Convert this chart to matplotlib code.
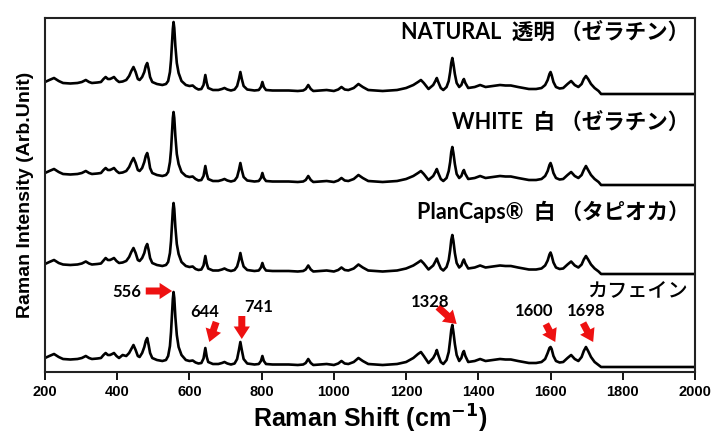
import matplotlib
matplotlib.use("Agg")
import matplotlib.pyplot as plt
from matplotlib.patches import FancyArrowPatch

# ---------------- data ----------------
shift = [200, 212, 225, 238, 250, 270, 290, 302, 313, 322,
         330, 345, 355, 362, 368, 374, 380, 386, 391, 398,
         405, 415, 425, 433, 439, 445, 451, 457, 462, 469,
         475, 479, 483, 487, 491, 497, 510, 525, 535, 541,
         546, 549, 552, 554, 556, 558, 561, 565, 570, 578,
         590, 600, 609, 617, 625, 633, 639, 644, 648, 652,
         665, 680, 690, 697, 705, 715, 725, 732, 737, 741,
         745, 750, 760, 780, 792, 798, 802, 806, 812, 830,
         850, 875, 900, 915, 922, 929, 936, 943, 960, 980,
         1000, 1012, 1021, 1030, 1040, 1055, 1068, 1080, 1095, 1115,
         1135, 1155, 1175, 1200, 1220, 1233, 1241, 1249, 1262, 1275,
         1281, 1285, 1289, 1296, 1303, 1312, 1318, 1322, 1325, 1328,
         1331, 1335, 1340, 1347, 1353, 1357, 1360, 1364, 1372, 1390,
         1405, 1420, 1440, 1460, 1475, 1490, 1510, 1525, 1540, 1560,
         1575, 1585, 1592, 1597, 1600, 1603, 1608, 1615, 1625, 1635,
         1647, 1657, 1667, 1677, 1686, 1692, 1698, 1704, 1712, 1722,
         1733, 1740, 2000]

natural = [12, 14, 16, 13, 11, 10.5, 11, 12, 14, 12,
           11, 11.5, 12, 15, 17, 15, 15, 16, 17, 14,
           12, 12.5, 14, 18, 23, 27, 22, 15, 14, 17,
           22, 28, 31, 25, 17, 12, 10, 9, 10, 13,
           22, 34, 52, 65, 72, 66, 48, 31, 21, 13,
           9, 8, 8.5, 6, 4.5, 5, 9, 19, 11, 6,
           4, 4, 5, 6, 4.5, 3.5, 4.5, 8, 15, 22,
           15, 8, 4.5, 3.5, 4, 7, 12, 7, 4, 3.5,
           3.5, 3.5, 3, 3.5, 5, 9, 5, 3, 3.5, 4,
           3, 4.5, 7, 4.5, 4, 6, 10, 7, 4, 3.5,
           3, 3.5, 4, 6, 9, 12, 14, 11, 5, 9,
           13, 16, 12, 6, 4, 7, 13, 22, 31, 36,
           30, 20, 11, 7, 9, 13, 15, 11, 6, 7,
           9, 7, 8, 9, 8.5, 8.5, 7, 6, 5, 5,
           6, 9, 14, 20, 22, 19, 12, 7, 5.5, 6,
           10, 13, 9, 7, 10, 15, 18, 15, 10, 6,
           3, 0, 0]

white = [12, 14, 16, 13, 11, 10.5, 11, 12, 14, 12,
         11, 11.5, 12, 15, 17, 15, 15, 16, 17, 14,
         12, 12.5, 14, 18, 23, 27, 22, 15, 14, 17,
         23, 29, 32, 26, 17, 12, 10, 9, 10, 13,
         23, 35, 54, 67, 73, 67, 49, 31, 21, 13,
         9, 8, 8.5, 6, 4.5, 5, 9, 19, 11, 6,
         4, 4, 5, 6, 4.5, 3.5, 4.5, 8, 15, 22,
         15, 8, 4.5, 3.5, 4, 7, 12, 7, 4, 3.5,
         3.5, 3.5, 3, 3.5, 5, 9, 5, 3, 3.5, 4,
         3, 4.5, 7, 4.5, 4, 6, 10, 7, 4, 3.5,
         3, 3.5, 4, 6, 9, 12, 14, 11, 5, 9,
         13, 16, 12, 6, 4, 7, 14, 23, 33, 38,
         32, 21, 11, 7, 9, 13, 15, 11, 6, 7,
         9, 7, 8, 9, 8.5, 8.5, 7, 6, 5, 5,
         6, 9, 14, 20, 22, 19, 12, 7, 5.5, 6,
         10, 13, 9, 7, 10, 15, 19, 15, 10, 6,
         3, 0, 0]

plancaps = [10, 12, 14, 11, 9.5, 9, 9.5, 10.5, 12.5, 10.5,
            9.5, 10, 10.5, 13.5, 16, 14, 14, 15, 16, 13,
            11, 11.5, 13, 17, 22, 26, 21, 14, 13, 16,
            21, 27, 30, 24, 16, 11, 9, 8, 9, 12,
            21, 33, 51, 64, 71, 65, 47, 30, 20, 12,
            8, 7, 7.5, 5, 4, 4.5, 8.5, 18, 10, 5.5,
            3.5, 3.5, 4.5, 5.5, 4, 3, 4, 7.5, 14, 21,
            14, 7.5, 4, 3, 3.5, 6.5, 11, 6.5, 3.5, 3,
            3, 3, 2.5, 3, 4.5, 8.5, 4.5, 2.5, 3, 3.5,
            2.5, 4, 6.5, 4, 3.5, 5.5, 9.5, 6.5, 3.5, 3,
            2.5, 3, 3.5, 5.5, 8.5, 11.5, 13.5, 10.5, 4.5, 8.5,
            12.5, 15.5, 11.5, 5.5, 3.5, 7, 14, 24, 34, 39,
            33, 21, 11, 6.5, 8.5, 12.5, 14.5, 10.5, 5.5, 6.5,
            8.5, 6.5, 7.5, 8.5, 8, 8, 6.5, 5.5, 4.5, 4.5,
            5.5, 8.5, 13.5, 19.5, 21.5, 18.5, 11.5, 6.5, 5, 5.5,
            9.5, 12.5, 8.5, 6.5, 9.5, 14.5, 18, 14.5, 9.5, 5.5,
            2.5, 0, 0]

caffeine = [9, 11, 13, 10, 8, 7.5, 8, 9, 11, 9,
            8, 8.5, 9, 12, 14, 12, 12, 13, 14, 11,
            9, 12, 11, 14, 18, 22, 17, 11, 10, 14,
            20, 26, 29, 22, 14, 9, 7, 6, 7, 11,
            21, 35, 55, 68, 75, 69, 50, 32, 20, 12,
            7, 6, 6.5, 4.5, 3.5, 4, 8.5, 19, 10, 5,
            3, 3, 4, 5, 3.5, 2.5, 3.5, 8, 17, 25,
            17, 8, 3.5, 2.5, 3, 6, 11, 6, 3, 2.5,
            2.5, 2.5, 2, 2.5, 4, 8, 4, 2, 2.5, 3,
            2, 3.5, 6, 3.5, 3, 5, 9, 6, 3, 2.5,
            2, 2.5, 3, 5, 9, 13, 15, 11, 4, 9,
            13, 17, 12, 5, 3, 7, 15, 27, 37, 42,
            35, 23, 12, 6, 9, 14, 16, 11, 5, 6,
            8, 6, 7, 8, 7.5, 7.5, 6, 5, 4, 4,
            5, 8, 14, 19, 20, 18, 11, 6, 4.5, 5,
            9, 12, 8, 6, 10, 16, 20, 16, 10, 5,
            2, 0, 0]

series = [natural, white, plancaps, caffeine]
offsets = [278, 187, 98, 5]

labels = ["NATURAL  透明 （ゼラチン）", "WHITE  白 （ゼラチン）",
          "PlanCaps®  白 （タピオカ）", "カフェイン"]
label_y = [340, 250, 160, 81]

peak_labels = ["556", "644", "741", "1328", "1600", "1698"]
xticks = [200, 400, 600, 800, 1000, 1200, 1400, 1600, 1800, 2000]

# ---------------- figure ----------------
fig = plt.figure(figsize=(7.24, 4.45), dpi=100)
ax = fig.add_axes([45/724, 1-372/445, 650/724, 354/445])

for s, off in zip(series, offsets):
    ax.plot(shift, [v + off for v in s], color="black", lw=1.9,
            solid_joinstyle="round", solid_capstyle="round")

ax.set_xlim(200, 2000)
ax.set_ylim(0, 354)
ax.set_yticks([])
ax.set_xticks(xticks)
ax.set_xticklabels([str(t) for t in xticks],
                   fontdict=dict(fontweight="bold", fontsize=10.5,
                                 family=["Liberation Sans Narrow", "Liberation Sans", "DejaVu Sans"]))
ax.tick_params(axis="x", direction="out", length=6, width=1.3, pad=3)
for sp in ax.spines.values():
    sp.set_linewidth(1.5)
    sp.set_color("#222222")

jp = ["Lato", "Noto Sans CJK JP"]
for i, (lab, y) in enumerate(zip(labels, label_y)):
    if i < 3:
        ax.text(1985, y, lab, ha="right", va="center", fontsize=15.5,
                fontweight="bold", family=jp)
    else:
        ax.text(1980, y, lab, ha="right", va="center", fontsize=14.5,
                fontweight="medium", family=["Noto Sans CJK JP"])

# annotation text positions and arrow start/end, in data units
ann_text_pos = [(425, 80), (643, 60), (792, 65), (1266, 70), (1554, 61), (1700, 61)]
arrow_start = [(479, 81), (674, 50), (745, 56), (1288, 65), (1587, 48), (1690, 49)]
arrow_end = [(552, 81), (655, 30), (745, 33), (1340, 48), (1613, 30), (1718, 30)]

for lab, tp, a0, a1 in zip(peak_labels, ann_text_pos, arrow_start, arrow_end):
    ax.text(tp[0], tp[1], lab, ha="center", va="center", fontsize=12,
            fontweight="bold", family=["Lato", "DejaVu Sans"])
    arr = FancyArrowPatch(a0, a1,
                          arrowstyle="simple,head_width=0.65,head_length=0.5,tail_width=0.28",
                          mutation_scale=18, color="#ee1111", lw=0,
                          shrinkA=0, shrinkB=0)
    ax.add_patch(arr)

ax.set_xlabel("Raman Shift (cm$^{\\mathbf{-1}}$)", fontsize=18, fontweight="bold",
              family=["Liberation Sans", "DejaVu Sans"], labelpad=3)
ax.set_ylabel("Raman Intensity (Arb.Unit)", fontsize=14, fontweight="bold",
              family=["Liberation Sans", "DejaVu Sans"], labelpad=8)

fig.savefig("out.png", dpi=100)
